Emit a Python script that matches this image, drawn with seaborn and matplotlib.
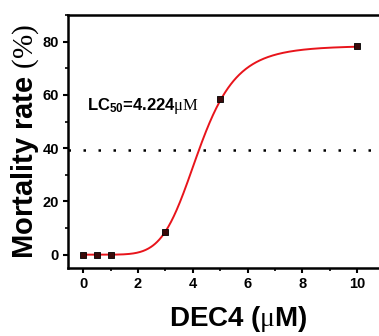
import numpy as np
import pandas as pd
import seaborn as sns
import matplotlib
matplotlib.use("Agg")
import matplotlib.pyplot as plt
from matplotlib.ticker import MultipleLocator

# data
conc = [0, 0.5, 1, 3, 5, 10]
mortality = [0, 0, 0, 8.5, 58.5, 78.5]
# fitted Hill parameters
fit_top = 78.5
lc50 = 4.224
hill_n = 6.1
half_level = fit_top / 2
xticks = [0, 2, 4, 6, 8, 10]
yticks = [0, 20, 40, 60, 80]

sns.set_style("ticks")
plt.rcParams['font.family'] = ['Liberation Sans', 'DejaVu Sans']
plt.rcParams['mathtext.fontset'] = 'custom'
plt.rcParams['mathtext.rm'] = 'Liberation Serif'
plt.rcParams['mathtext.it'] = 'Liberation Serif'
plt.rcParams['mathtext.bf'] = 'Liberation Sans:bold'
plt.rcParams['text.color'] = 'black'
plt.rcParams['axes.labelcolor'] = 'black'
plt.rcParams['xtick.color'] = 'black'
plt.rcParams['ytick.color'] = 'black'
plt.rcParams['axes.edgecolor'] = 'black'

fig = plt.figure(figsize=(3.79, 3.36), dpi=100)
ax = fig.add_axes([68/379, (336-268)/336, 340/379, (268-15)/336])

xs = np.linspace(0, 10, 400)
curve = fit_top * xs**hill_n / (lc50**hill_n + xs**hill_n)
df_fit = pd.DataFrame({"x": xs, "y": curve})
df_pts = pd.DataFrame({"x": conc, "y": mortality})

sns.lineplot(data=df_fit, x="x", y="y", ax=ax, color="#e8141b", lw=1.4, zorder=2)
sns.scatterplot(data=df_pts, x="x", y="y", ax=ax, marker="s", s=16,
                color="#3a0a0a", edgecolor="black", linewidth=0.6, zorder=3)
ax.axhline(half_level, color="black", lw=1.8, ls=(0, (1, 5)), zorder=1)

ax.set_xlim(-0.55, 11.85)
ax.set_ylim(-5, 90)
ax.set_xticks(xticks)
ax.set_yticks(yticks)
ax.xaxis.set_minor_locator(MultipleLocator(1))
ax.yaxis.set_minor_locator(MultipleLocator(10))
ax.tick_params(which="major", direction="out", length=3.5, width=1.5,
               labelsize=10.5, pad=3)
ax.tick_params(which="minor", direction="out", length=2, width=1.2)
for lab in ax.get_xticklabels() + ax.get_yticklabels():
    lab.set_fontweight("bold")
for s in ax.spines.values():
    s.set_linewidth(1.8)
    s.set_visible(True)
ax.spines["right"].set_visible(False)

ax.set_xlabel(r"DEC4 ($\mu$M)", fontsize=20, fontweight="bold", labelpad=9)
ax.set_ylabel(r"Mortality rate $\mathrm{(\%)}$", fontsize=21, fontweight="bold", labelpad=1)
ax.text(0.15, 54.5, r"LC$_{\mathbf{50}}$=4.224$\mathrm{\mu M}$", fontsize=12,
        fontweight="bold", va="baseline")

fig.savefig("out.png", dpi=100)
